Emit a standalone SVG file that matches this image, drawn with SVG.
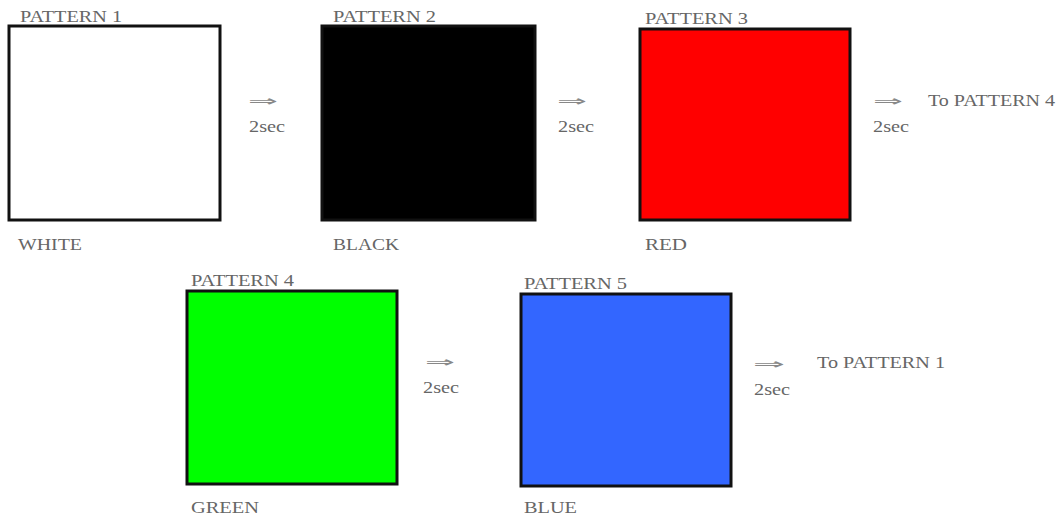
<svg xmlns="http://www.w3.org/2000/svg" width="1060" height="520" viewBox="0 0 1060 520">
<style>
.t{font-family:"Liberation Serif","Times New Roman",serif;font-size:16px;fill:#666}
.a{font-family:"DejaVu Sans",sans-serif;font-size:15px;fill:#888}
.box{stroke:#111;stroke-width:3}
</style>
<rect width="1060" height="520" fill="#fff"/>
<g id="p1"><rect class="box" x="9" y="26" width="211" height="194" fill="#fff"/>
<text class="t" x="20" y="22" textLength="102" lengthAdjust="spacingAndGlyphs">PATTERN 1</text>
<text class="t" x="18" y="250" textLength="64" lengthAdjust="spacingAndGlyphs">WHITE</text></g>
<g id="p2"><rect class="box" x="322" y="26" width="213" height="194" fill="#000"/>
<text class="t" x="333" y="22" textLength="103" lengthAdjust="spacingAndGlyphs">PATTERN 2</text>
<text class="t" x="333" y="250" textLength="66" lengthAdjust="spacingAndGlyphs">BLACK</text></g>
<g id="p3"><rect class="box" x="640" y="29" width="210" height="191" fill="#ff0000"/>
<text class="t" x="645" y="24" textLength="103" lengthAdjust="spacingAndGlyphs">PATTERN 3</text>
<text class="t" x="645" y="250" textLength="42" lengthAdjust="spacingAndGlyphs">RED</text></g>
<g id="p4"><rect class="box" x="187" y="291" width="210" height="193" fill="#00ff00"/>
<text class="t" x="191" y="286" textLength="103" lengthAdjust="spacingAndGlyphs">PATTERN 4</text>
<text class="t" x="191" y="513" textLength="68" lengthAdjust="spacingAndGlyphs">GREEN</text></g>
<g id="p5"><rect class="box" x="521" y="294" width="210" height="192" fill="#3366ff"/>
<text class="t" x="524" y="289" textLength="103" lengthAdjust="spacingAndGlyphs">PATTERN 5</text>
<text class="t" x="524" y="513" textLength="53" lengthAdjust="spacingAndGlyphs">BLUE</text></g>
<g id="connectors">
<text class="a" x="248" y="106" textLength="30" lengthAdjust="spacingAndGlyphs">⇒</text>
<text class="t" x="249" y="132" textLength="36" lengthAdjust="spacingAndGlyphs">2sec</text>
<text class="a" x="557" y="106" textLength="30" lengthAdjust="spacingAndGlyphs">⇒</text>
<text class="t" x="558" y="132" textLength="36" lengthAdjust="spacingAndGlyphs">2sec</text>
<text class="a" x="873" y="106" textLength="30" lengthAdjust="spacingAndGlyphs">⇒</text>
<text class="t" x="873" y="132" textLength="36" lengthAdjust="spacingAndGlyphs">2sec</text>
<text class="t" x="928" y="106" textLength="127" lengthAdjust="spacingAndGlyphs">To PATTERN 4</text>
<text class="a" x="425" y="367" textLength="30" lengthAdjust="spacingAndGlyphs">⇒</text>
<text class="t" x="423" y="393" textLength="36" lengthAdjust="spacingAndGlyphs">2sec</text>
<text class="a" x="753" y="369" textLength="32" lengthAdjust="spacingAndGlyphs">⇒</text>
<text class="t" x="754" y="395" textLength="36" lengthAdjust="spacingAndGlyphs">2sec</text>
<text class="t" x="817" y="368" textLength="128" lengthAdjust="spacingAndGlyphs">To PATTERN 1</text>
</g>
</svg>
